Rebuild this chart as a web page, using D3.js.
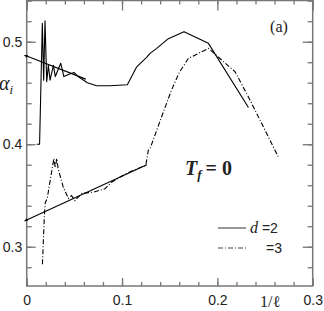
<!DOCTYPE html>
<html>
<head>
<meta charset="utf-8">
<script src="https://cdn.jsdelivr.net/npm/d3@7"></script>
<style>
  html, body { margin: 0; padding: 0; background: #fff; }
  svg { display: block; }
</style>
</head>
<body>
<svg id="chart" width="324" height="311"></svg>
<script>
// ---- data ----
const xMajorTicks = [0, 0.1, 0.2, 0.3];
const xTickLabels = ["0", "0.1", "0.2", "0.3"];
const yMajorTicks = [0.3, 0.4, 0.5];
const yTickLabels = ["0.3", "0.4", "0.5"];

// d = 2 data (solid)
const d2X = [0.0105, 0.0135, 0.0164, 0.0178, 0.0192, 0.0210, 0.0227, 0.0245, 0.0280, 0.0300, 0.0357, 0.0390, 0.0437, 0.0496, 0.0540, 0.0636, 0.0734, 0.0874, 0.1056, 0.1154, 0.1260, 0.1294, 0.1364, 0.1486, 0.1650, 0.1906, 0.2326];
const d2Y = [0.400, 0.400, 0.518, 0.4625, 0.5205, 0.461, 0.477, 0.4625, 0.477, 0.466, 0.479, 0.466, 0.468, 0.470, 0.466, 0.460, 0.457, 0.457, 0.458, 0.4755, 0.485, 0.4886, 0.4935, 0.503, 0.5098, 0.4984, 0.4358];
// d = 2 linear extrapolation (solid straight line)
const d2FitX = [0, 0.062];
const d2FitY = [0.486, 0.4635];

// d = 3 data (dash-dot)
const d3X = [0.0165, 0.0185, 0.0195, 0.0215, 0.0265, 0.0285, 0.0300, 0.0315, 0.0330, 0.0384, 0.0437, 0.0470, 0.0507, 0.0577, 0.0700, 0.0820, 0.0890, 0.0980, 0.1080, 0.1249, 0.1276, 0.1294, 0.1420, 0.1520, 0.1600, 0.1696, 0.1906, 0.2186, 0.2343, 0.2640];
const d3Y = [0.283, 0.330, 0.343, 0.347, 0.375, 0.386, 0.377, 0.386, 0.376, 0.358, 0.347, 0.350, 0.345, 0.352, 0.3533, 0.3565, 0.363, 0.368, 0.373, 0.3794, 0.3941, 0.3957, 0.428, 0.453, 0.470, 0.4837, 0.4935, 0.4707, 0.443, 0.3875];
// d = 3 linear extrapolation
const d3FitX = [0, 0.126];
const d3FitY = [0.3262, 0.380];

// ---- layout ----
const svg = d3.select("#chart");
const L = 26.7, R = 312.7, T = 0.5, B = 286;
const x = d3.scaleLinear().domain([0, 0.3]).range([L, R]);
const y = d3.scaleLinear().domain([0.2617, 0.5407]).range([B, 0]);

const axisColor = "#777";
const textColor = "#222";
const sans = "'Liberation Sans', Arial, Helvetica, sans-serif";
const serif = "'Liberation Serif', 'Times New Roman', serif";

const xMinor = d3.range(0, 0.3001, 0.02);
const yMinor = d3.range(0.28, 0.5401, 0.02);

function styleAxis(g) {
  g.select(".domain").remove();
  g.selectAll(".tick line").attr("stroke", axisColor).attr("stroke-width", 1.3);
  g.selectAll(".tick text").attr("fill", textColor).style("font-family", sans).style("font-size", "14px");
}

// bottom
svg.append("g").attr("transform", `translate(0,${B})`)
  .call(d3.axisBottom(x).tickValues(xMinor).tickSize(-4).tickFormat(""))
  .call(styleAxis);
svg.append("g").attr("transform", `translate(0,${B})`)
  .call(d3.axisBottom(x).tickValues(xMajorTicks).tickSize(-8).tickPadding(9)
    .tickFormat((d, i) => xTickLabels[i]))
  .call(styleAxis);
// top
svg.append("g").attr("transform", `translate(0,${T})`)
  .call(d3.axisTop(x).tickValues(xMinor).tickSize(-4).tickFormat(""))
  .call(styleAxis);
svg.append("g").attr("transform", `translate(0,${T})`)
  .call(d3.axisTop(x).tickValues(xMajorTicks).tickSize(-10).tickFormat(""))
  .call(styleAxis);
// left
svg.append("g").attr("transform", `translate(${L},0)`)
  .call(d3.axisLeft(y).tickValues(yMinor).tickSize(-5).tickFormat(""))
  .call(styleAxis);
svg.append("g").attr("transform", `translate(${L},0)`)
  .call(d3.axisLeft(y).tickValues(yMajorTicks).tickSize(-9).tickPadding(4.5)
    .tickFormat((d, i) => yTickLabels[i]))
  .call(styleAxis);
// right
svg.append("g").attr("transform", `translate(${R},0)`)
  .call(d3.axisRight(y).tickValues(yMinor).tickSize(-5).tickFormat(""))
  .call(styleAxis);
svg.append("g").attr("transform", `translate(${R},0)`)
  .call(d3.axisRight(y).tickValues(yMajorTicks).tickSize(-10).tickFormat(""))
  .call(styleAxis);

// frame
svg.append("rect").attr("x", L).attr("y", T).attr("width", R - L).attr("height", B - T)
  .attr("fill", "none").attr("stroke", axisColor).attr("stroke-width", 1.5);

// arrowhead marker (small)
svg.append("defs").append("marker")
  .attr("id", "arr").attr("viewBox", "0 0 10 10").attr("refX", 2).attr("refY", 5)
  .attr("markerWidth", 4).attr("markerHeight", 3).attr("orient", "auto-start-reverse")
  .attr("markerUnits", "userSpaceOnUse").attr("preserveAspectRatio", "none")
  .append("path").attr("d", "M0,0 L10,5 L0,10 z").attr("fill", "#000");

const line = d3.line().x(d => x(d[0])).y(d => y(d[1]));
const zip = (a, b) => a.map((v, i) => [v, b[i]]);

svg.append("path").datum(zip(d2X, d2Y)).attr("d", line)
  .attr("fill", "none").attr("stroke", "#000").attr("stroke-width", 1.1).attr("stroke-linejoin", "round");
svg.append("path").datum(zip(d3X, d3Y)).attr("d", line)
  .attr("fill", "none").attr("stroke", "#000").attr("stroke-width", 1.1)
  .attr("stroke-dasharray", "5,2,1,2");
svg.append("path").datum(zip(d2FitX, d2FitY)).attr("d", line)
  .attr("fill", "none").attr("stroke", "#000").attr("stroke-width", 1.1)
  .attr("marker-start", "url(#arr)");
svg.append("path").datum(zip(d3FitX, d3FitY)).attr("d", line)
  .attr("fill", "none").attr("stroke", "#000").attr("stroke-width", 1.1)
  .attr("marker-start", "url(#arr)");

// y axis label alpha_i
const yl = svg.append("text").attr("x", -1).attr("y", 90)
  .style("font-family", serif).style("font-style", "italic").style("font-size", "20px").attr("fill", textColor);
yl.append("tspan").text("α");
yl.append("tspan").attr("dy", 4).style("font-size", "13px").text("i");

// x axis label 1/ℓ
svg.append("text").attr("x", 270).attr("y", 307).attr("text-anchor", "middle")
  .style("font-family", serif).style("font-size", "16px").attr("fill", textColor)
  .text("1/ℓ");

// panel label
svg.append("text").attr("x", 279).attr("y", 32).attr("text-anchor", "middle")
  .style("font-family", serif).style("font-size", "16px").attr("fill", textColor)
  .text("(a)");

// T_f = 0
const tf = svg.append("text").attr("x", 185).attr("y", 175)
  .style("font-family", serif).style("font-weight", "bold").style("font-size", "20px").attr("fill", textColor);
tf.append("tspan").style("font-style", "italic").text("T");
tf.append("tspan").attr("dy", 4).style("font-style", "italic").style("font-size", "13px").text("f");
tf.append("tspan").attr("dy", -4).attr("dx", 4).text("= 0");

// legend
const lg = svg.append("g");
lg.append("line").attr("x1", 218).attr("x2", 246).attr("y1", 228).attr("y2", 228)
  .attr("stroke", "#444").attr("stroke-width", 1.1);
lg.append("line").attr("x1", 218).attr("x2", 246).attr("y1", 248).attr("y2", 248)
  .attr("stroke", "#444").attr("stroke-width", 1.1).attr("stroke-dasharray", "5,2,1,2");
const t2 = lg.append("text").attr("x", 250).attr("y", 233)
  .style("font-size", "14px").attr("fill", textColor);
t2.append("tspan").style("font-family", serif).style("font-style", "italic").style("font-size", "16px").text("d");
t2.append("tspan").style("font-family", sans).text(" =2");
lg.append("text").attr("x", 266).attr("y", 253)
  .style("font-family", sans).style("font-size", "14px").attr("fill", textColor).text("=3");
</script>
</body>
</html>
